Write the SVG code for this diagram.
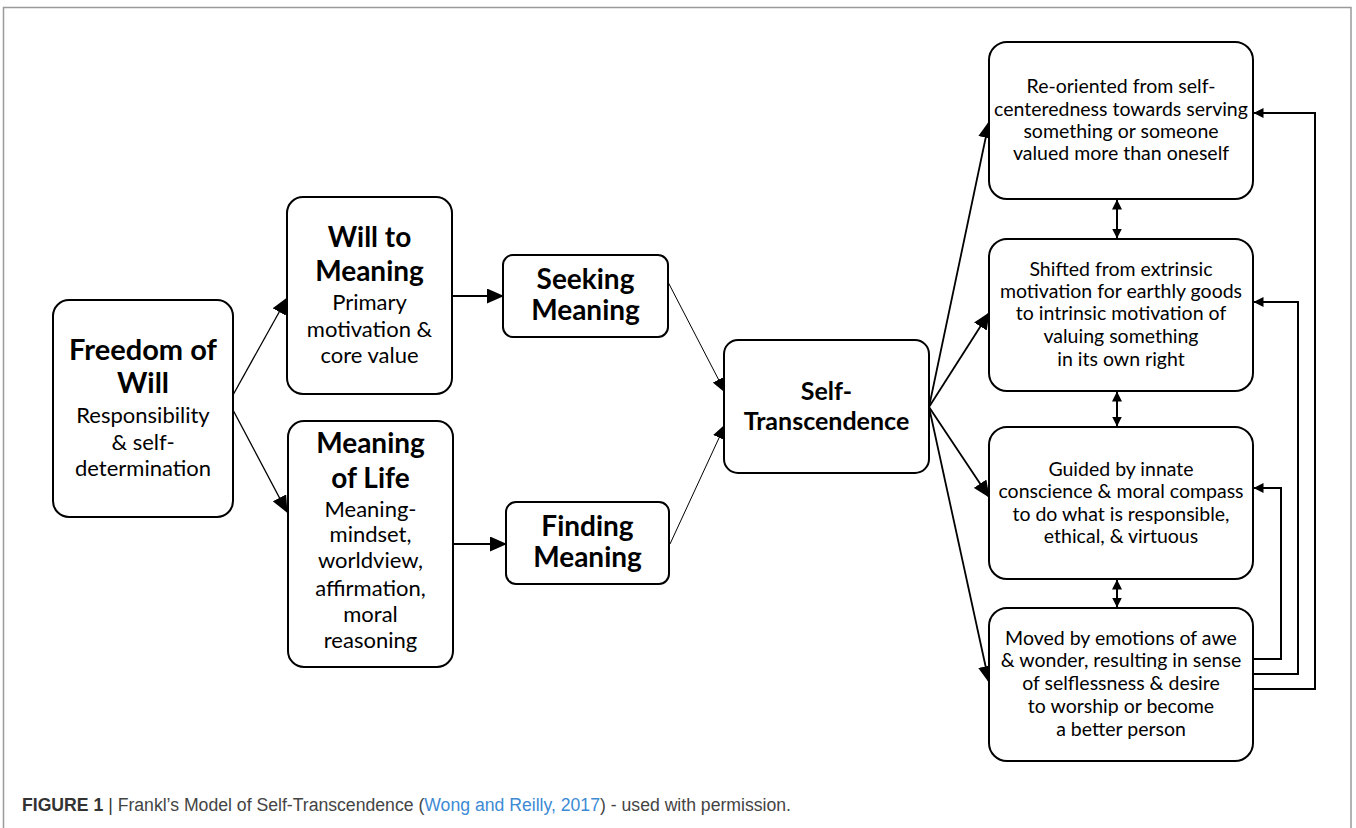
<svg xmlns="http://www.w3.org/2000/svg" width="1356" height="828" viewBox="0 0 1356 828">
<defs>
<marker id="big" markerUnits="userSpaceOnUse" markerWidth="17" markerHeight="15" refX="16" refY="7.5" orient="auto"><path d="M0,0 L17,7.5 L0,15 z" fill="#000"/></marker>
<marker id="mid" markerUnits="userSpaceOnUse" markerWidth="15" markerHeight="13" refX="14" refY="6.5" orient="auto"><path d="M0,0 L15,6.5 L0,13 z" fill="#000"/></marker>
<marker id="sm" markerUnits="userSpaceOnUse" markerWidth="10" markerHeight="10" refX="9.5" refY="5" orient="auto-start-reverse"><path d="M0,0 L10,5 L0,10 z" fill="#000"/></marker>
</defs>
<style>
.box{fill:#fff;stroke:#000;stroke-width:2}
.h{font-family:Lato,"Liberation Sans",sans-serif;font-weight:bold;fill:#000;text-anchor:middle}
.t{font-family:Lato,"Liberation Sans",sans-serif;fill:#000;text-anchor:middle}
.c{fill:none;stroke:#000}
.cap{font-family:"Liberation Sans",Arial,sans-serif;font-size:18px;fill:#444}
</style>
<rect width="1356" height="828" fill="#fff"/>
<path d="M3.5,828 V7.5 H1351 V828" fill="none" stroke="#9a9a9a" stroke-width="1.5"/>

<g id="connectors">
<path class="c" stroke-width="1.3" d="M233,395 L287,298" marker-end="url(#big)"/>
<path class="c" stroke-width="1.3" d="M233,410 L287,512" marker-end="url(#big)"/>
<path class="c" stroke-width="2" d="M452,296 L503,296" marker-end="url(#big)"/>
<path class="c" stroke-width="2" d="M453,544 L506,544" marker-end="url(#big)"/>
<path class="c" stroke-width="1" d="M668,282 L725,392" marker-end="url(#mid)"/>
<path class="c" stroke-width="1" d="M670,544 L725,425" marker-end="url(#mid)"/>
<path class="c" stroke-width="1.8" d="M929,407 L989,122" marker-end="url(#big)"/>
<path class="c" stroke-width="1.8" d="M929,407 L989,313" marker-end="url(#big)"/>
<path class="c" stroke-width="1.8" d="M929,407 L989,497" marker-end="url(#big)"/>
<path class="c" stroke-width="1.8" d="M929,407 L989,682" marker-end="url(#big)"/>
<path class="c" stroke-width="2" d="M1117,200 V238" marker-start="url(#sm)" marker-end="url(#sm)"/>
<path class="c" stroke-width="2" d="M1117,392 V426" marker-start="url(#sm)" marker-end="url(#sm)"/>
<path class="c" stroke-width="2" d="M1117,580 V607" marker-start="url(#sm)" marker-end="url(#sm)"/>
<path class="c" stroke-width="2" d="M1253,659 H1281 V488 H1254" marker-end="url(#sm)"/>
<path class="c" stroke-width="2" d="M1253,674 H1298 V302 H1254" marker-end="url(#sm)"/>
<path class="c" stroke-width="2" d="M1253,689 H1315 V113 H1254" marker-end="url(#sm)"/>
</g>

<g id="freedom">
<rect class="box" x="53" y="300" width="180" height="217" rx="16"/>
<text class="h" font-size="29" x="143" y="360">Freedom of</text>
<text class="h" font-size="29" x="143" y="393">Will</text>
<text class="t" font-size="22" x="143" y="423">Responsibility</text>
<text class="t" font-size="22" x="143" y="450">&amp; self-</text>
<text class="t" font-size="22" x="143" y="476">determination</text>
</g>

<g id="will">
<rect class="box" x="287" y="197" width="165" height="197" rx="16"/>
<text class="h" font-size="28" x="369.5" y="247">Will to</text>
<text class="h" font-size="28" x="369.5" y="281">Meaning</text>
<text class="t" font-size="22" x="369.5" y="310">Primary</text>
<text class="t" font-size="22" x="369.5" y="337">motivation &amp;</text>
<text class="t" font-size="22" x="369.5" y="363">core value</text>
</g>

<g id="seeking">
<rect class="box" x="503" y="255" width="165" height="82" rx="10"/>
<text class="h" font-size="28" x="585.5" y="289">Seeking</text>
<text class="h" font-size="28" x="585.5" y="320">Meaning</text>
</g>

<g id="life">
<rect class="box" x="288" y="421" width="165" height="246" rx="16"/>
<text class="h" font-size="28" x="370.5" y="453">Meaning</text>
<text class="h" font-size="28" x="370.5" y="488">of Life</text>
<text class="t" font-size="22" x="370.5" y="517">Meaning-</text>
<text class="t" font-size="22" x="370.5" y="542">mindset,</text>
<text class="t" font-size="22" x="370.5" y="568">worldview,</text>
<text class="t" font-size="22" x="370.5" y="596">affirmation,</text>
<text class="t" font-size="22" x="370.5" y="622">moral</text>
<text class="t" font-size="22" x="370.5" y="648">reasoning</text>
</g>

<g id="finding">
<rect class="box" x="506" y="502" width="163" height="82" rx="10"/>
<text class="h" font-size="28" x="587.5" y="536">Finding</text>
<text class="h" font-size="28" x="587.5" y="567">Meaning</text>
</g>

<g id="self">
<rect class="box" x="724" y="340" width="205" height="133" rx="14"/>
<text class="h" font-size="25" x="826.5" y="400">Self-</text>
<text class="h" font-size="25" x="826.5" y="430">Transcendence</text>
</g>

<g id="reoriented">
<rect class="box" x="989" y="42" width="264" height="157" rx="18"/>
<text class="t" font-size="19.5" x="1121" y="93">Re-oriented from self-</text>
<text class="t" font-size="19.5" x="1121" y="116">centeredness towards serving</text>
<text class="t" font-size="19.5" x="1121" y="138">something or someone</text>
<text class="t" font-size="19.5" x="1121" y="160">valued more than oneself</text>
</g>

<g id="shifted">
<rect class="box" x="989" y="239" width="264" height="152" rx="18"/>
<text class="t" font-size="19.5" x="1121" y="276">Shifted from extrinsic</text>
<text class="t" font-size="19.5" x="1121" y="298">motivation for earthly goods</text>
<text class="t" font-size="19.5" x="1121" y="320">to intrinsic motivation of</text>
<text class="t" font-size="19.5" x="1121" y="343">valuing something</text>
<text class="t" font-size="19.5" x="1121" y="366">in its own right</text>
</g>

<g id="guided">
<rect class="box" x="989" y="427" width="264" height="152" rx="18"/>
<text class="t" font-size="19.5" x="1121" y="476">Guided by innate</text>
<text class="t" font-size="19.5" x="1121" y="498">conscience &amp; moral compass</text>
<text class="t" font-size="19.5" x="1121" y="521">to do what is responsible,</text>
<text class="t" font-size="19.5" x="1121" y="543">ethical, &amp; virtuous</text>
</g>

<g id="moved">
<rect class="box" x="989" y="608" width="264" height="153" rx="18"/>
<text class="t" font-size="19.5" x="1121" y="645">Moved by emotions of awe</text>
<text class="t" font-size="19.5" x="1121" y="667">&amp; wonder, resulting in sense</text>
<text class="t" font-size="19.5" x="1121" y="690">of selflessness &amp; desire</text>
<text class="t" font-size="19.5" x="1121" y="713">to worship or become</text>
<text class="t" font-size="19.5" x="1121" y="736">a better person</text>
</g>

<g id="caption">
<text class="cap" x="22" y="811" textLength="769" lengthAdjust="spacingAndGlyphs"><tspan font-weight="bold" fill="#333">FIGURE 1</tspan><tspan fill="#333">  |  </tspan>Frankl’s Model of Self-Transcendence (<tspan fill="#3d8ad4">Wong and Reilly, 2017</tspan>) - used with permission.</text>
</g>
</svg>
